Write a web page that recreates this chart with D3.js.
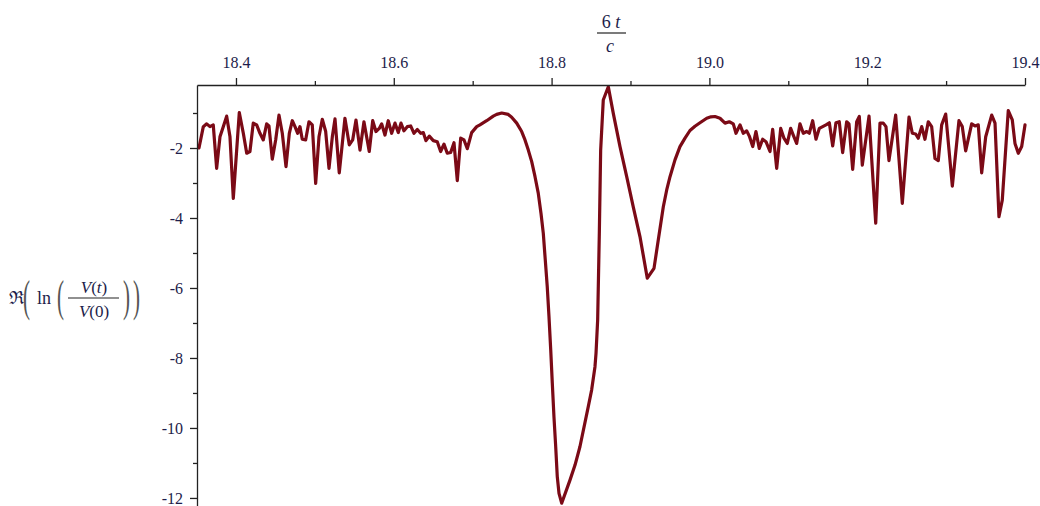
<!DOCTYPE html>
<html><head><meta charset="utf-8">
<script src="https://cdn.jsdelivr.net/npm/d3@7"></script>
<style>
html,body{margin:0;padding:0;background:#fff;}
svg{display:block;}
text{font-family:"Liberation Serif","DejaVu Serif",serif;}
</style></head>
<body>
<script>
const tValues = [18.3531,18.3586,18.3629,18.3670,18.3712,18.3755,18.3797,18.3839,18.3882,18.3924,18.3966,18.4042,18.4093,18.4136,18.4177,18.4219,18.4262,18.4304,18.4346,18.4389,18.4418,18.4460,18.4503,18.4545,18.4587,18.4634,18.4676,18.4714,18.4748,18.4782,18.4811,18.4840,18.4883,18.4925,18.4967,18.5010,18.5052,18.5094,18.5137,18.5179,18.5221,18.5255,18.5309,18.5381,18.5436,18.5479,18.5521,18.5572,18.5622,18.5689,18.5733,18.5774,18.5816,18.5847,18.5888,18.5930,18.5973,18.6015,18.6057,18.6091,18.6129,18.6171,18.6214,18.6256,18.6298,18.6341,18.6374,18.6408,18.6450,18.6501,18.6551,18.6594,18.6636,18.6678,18.6721,18.6763,18.6805,18.6848,18.6890,18.6932,
18.6987,18.7051,18.7092,18.7177,18.7261,18.7304,18.7368,18.7451,18.7494,18.7558,18.7621,18.7663,18.7705,18.7748,18.7790,18.7831,18.7866,18.7895,18.7920,18.7945,18.7967,18.7989,18.8009,18.8030,18.8052,18.8072,18.8094,18.8128,18.8233,18.8297,18.8360,18.8465,18.8508,18.8550,18.8563,18.8584,18.8605,18.8622,18.8655,18.8719,18.8782,18.8867,18.8952,18.9035,18.9120,18.9213,18.9298,18.9352,18.9416,18.9459,18.9501,18.9564,18.9627,18.9691,18.9754,18.9817,18.9881,18.9966,19.0020,19.0071,
19.0134,19.0198,19.0252,19.0303,19.0337,19.0388,19.0430,19.0473,19.0506,19.0549,19.0590,19.0632,19.0675,19.0717,19.0768,19.0802,19.0853,19.0904,19.0945,19.0987,19.1030,19.1063,19.1106,19.1148,19.1190,19.1233,19.1266,19.1309,19.1351,19.1393,19.1436,19.1478,19.1520,19.1563,19.1604,19.1646,19.1689,19.1740,19.1769,19.1816,19.1867,19.1900,19.1938,19.2023,19.2108,19.2162,19.2204,19.2238,19.2276,19.2361,19.2445,19.2530,19.2572,19.2614,19.2647,19.2691,19.2732,19.2774,19.2817,19.2859,19.2901,19.2944,19.2995,19.3079,19.3163,19.3205,19.3248,19.3324,19.3366,19.3408,19.3451,19.3502,19.3578,19.3620,19.3670,19.3712,19.3788,19.3839,19.3873,19.3915,19.3958,19.4000];
const reLnValues = [-2.00,-1.39,-1.31,-1.39,-1.34,-2.58,-1.68,-1.39,-1.09,-1.68,-3.44,-0.99,-1.58,-2.15,-2.10,-1.29,-1.34,-1.58,-1.77,-1.31,-1.37,-2.32,-1.77,-1.06,-1.58,-2.53,-1.58,-1.22,-1.39,-1.58,-1.39,-1.75,-1.77,-1.25,-1.34,-3.01,-1.68,-1.18,-1.53,-2.58,-1.68,-1.17,-2.71,-1.15,-1.91,-1.77,-1.20,-2.06,-1.25,-2.10,-1.22,-1.53,-1.44,-1.31,-1.63,-1.22,-1.58,-1.29,-1.56,-1.29,-1.51,-1.39,-1.37,-1.58,-1.47,-1.58,-1.56,-1.79,-1.66,-1.79,-1.82,-2.10,-1.89,-2.15,-2.13,-1.85,-2.93,-1.72,-1.77,-2.02,
-1.56,-1.39,-1.34,-1.22,-1.09,-1.04,-1.00,-1.04,-1.12,-1.29,-1.53,-1.77,-2.06,-2.39,-2.82,-3.29,-3.87,-4.44,-5.20,-5.96,-6.82,-7.77,-8.72,-9.68,-10.53,-11.39,-11.87,-12.15,-11.49,-11.06,-10.53,-9.39,-8.91,-8.25,-7.87,-6.91,-4.44,-2.06,-0.63,-0.25,-1.01,-1.96,-2.82,-3.68,-4.53,-5.72,-5.44,-4.63,-3.68,-3.20,-2.82,-2.34,-1.96,-1.72,-1.50,-1.38,-1.28,-1.15,-1.11,-1.10,
-1.15,-1.29,-1.25,-1.31,-1.58,-1.34,-1.58,-1.51,-1.66,-1.96,-1.53,-2.01,-1.75,-1.82,-2.10,-1.47,-2.58,-1.44,-1.72,-1.87,-1.44,-1.63,-1.87,-1.31,-1.58,-1.53,-1.58,-1.22,-1.75,-1.44,-1.39,-1.34,-1.28,-1.94,-1.28,-1.25,-2.13,-1.25,-1.31,-2.61,-1.25,-1.10,-2.49,-1.09,-4.15,-1.29,-1.29,-1.39,-2.36,-1.06,-3.58,-1.12,-1.58,-1.60,-1.72,-1.39,-1.75,-1.25,-1.39,-2.30,-2.36,-1.34,-1.03,-3.09,-1.22,-1.39,-2.08,-1.31,-1.37,-1.34,-2.71,-1.68,-1.06,-1.29,-3.96,-3.49,-0.93,-1.20,-1.87,-2.15,-1.96,-1.34];
const xMajorTicks = [18.4,18.6,18.8,19.0,19.2,19.4];
const xMinorTicks = [18.5,18.7,18.9,19.1,19.3];
const xTickLabels = ["18.4","18.6","18.8","19.0","19.2","19.4"];
const yMajorTicks = [-2,-4,-6,-8,-10,-12];
const yMinorTicks = [-1,-3,-5,-7,-9,-11];
const yTickLabels = ["-2","-4","-6","-8","-10","-12"];

const W = 1040, H = 506;
const mLeft = 197, mRight = 1025, mTop = 85, mBottom = 506;
const ink = "#1d1d4a";
const lineColor = "#7b0a16";

const svg = d3.select("body").append("svg").attr("width", W).attr("height", H);

const x = d3.scaleLinear().domain([18.3506, 19.4]).range([mLeft, mRight]);
const y = d3.scaleLinear().domain([-0.2, -12.23]).range([mTop, mBottom]);

const data = tValues.map((t, i) => [t, reLnValues[i]]);

// curve
svg.append("path")
  .datum(data)
  .attr("fill", "none")
  .attr("stroke", lineColor)
  .attr("stroke-width", 3.2)
  .attr("stroke-linejoin", "round")
  .attr("stroke-linecap", "round")
  .attr("d", d3.line().x(d => x(d[0])).y(d => y(d[1])));

// x axis (top)
const gx = svg.append("g").attr("transform", `translate(0,${mTop})`);
gx.call(d3.axisTop(x).tickValues(xMajorTicks).tickFormat((d, i) => xTickLabels[i]).tickSize(7).tickPadding(10).tickSizeOuter(0));
const gxm = svg.append("g").attr("transform", `translate(0,${mTop})`);
gxm.call(d3.axisTop(x).tickValues(xMinorTicks).tickFormat("").tickSize(4).tickSizeOuter(0));
gxm.select(".domain").remove();

// y axis (left)
const gy = svg.append("g").attr("transform", `translate(${mLeft},0)`);
gy.call(d3.axisLeft(y).tickValues(yMajorTicks).tickFormat((d, i) => yTickLabels[i]).tickSize(7).tickPadding(7).tickSizeOuter(0));
const gym = svg.append("g").attr("transform", `translate(${mLeft},0)`);
gym.call(d3.axisLeft(y).tickValues(yMinorTicks).tickFormat("").tickSize(4).tickSizeOuter(0));
gym.select(".domain").remove();

svg.selectAll(".domain").attr("stroke", "#222").attr("stroke-width", 1.3);
svg.selectAll(".tick line").attr("stroke", "#222").attr("stroke-width", 1.3);
svg.selectAll(".tick text").attr("fill", ink).attr("font-size", 16)
  .attr("font-family", "'Liberation Serif','DejaVu Serif',serif");

// x axis title: 6t / c
const xt = svg.append("g").attr("fill", ink).attr("font-size", 18);
xt.append("text").attr("x", 611).attr("y", 28).attr("text-anchor", "middle")
  .html('6 <tspan font-style="italic">t</tspan>');
xt.append("line").attr("x1", 597).attr("x2", 626).attr("y1", 33).attr("y2", 33)
  .attr("stroke", "#222").attr("stroke-width", 1.2);
xt.append("text").attr("x", 610).attr("y", 52).attr("text-anchor", "middle")
  .attr("font-style", "italic").text("c");

// y axis title: ℜ(ln(V(t)/V(0)))
const yt = svg.append("g").attr("fill", ink).attr("font-size", 17);
yt.append("text").attr("x", 9).attr("y", 304).attr("font-size", 18).text("ℜ");
function bigParen(xp, ch) {
  yt.append("text").attr("transform", `translate(${xp},${311}) scale(1,2.1)`)
    .attr("font-size", 21).attr("fill", "#555").text(ch);
}
bigParen(23, "(");
yt.append("text").attr("x", 37).attr("y", 304).attr("font-size", 18).text("ln");
bigParen(57, "(");
yt.append("text").attr("x", 94).attr("y", 293).attr("text-anchor", "middle")
  .html('<tspan font-style="italic">V</tspan>(<tspan font-style="italic">t</tspan>)');
yt.append("line").attr("x1", 68).attr("x2", 119).attr("y1", 298).attr("y2", 298)
  .attr("stroke", "#222").attr("stroke-width", 1.1);
yt.append("text").attr("x", 94).attr("y", 317).attr("text-anchor", "middle")
  .html('<tspan font-style="italic">V</tspan>(0)');
bigParen(123, ")");
bigParen(133, ")");
</script>
</body></html>
